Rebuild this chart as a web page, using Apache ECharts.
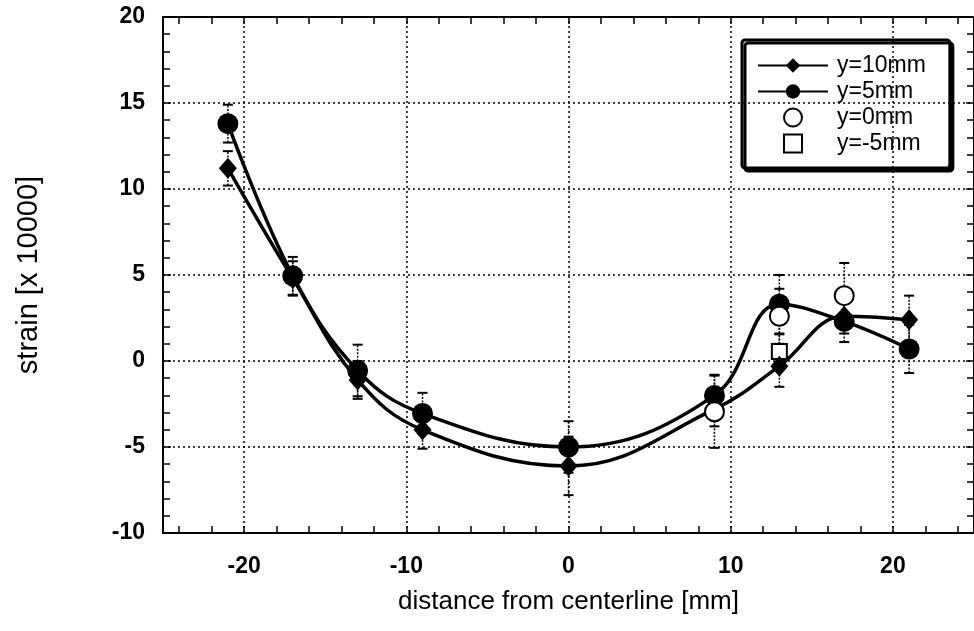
<!DOCTYPE html>
<html>
<head>
<meta charset="utf-8">
<script src="https://cdn.jsdelivr.net/npm/echarts@6/dist/echarts.min.js"></script>
<style>
  html, body { margin: 0; padding: 0; background: #fff; }
  #chart { width: 974px; height: 631px; }
</style>
</head>
<body>
<div id="chart"></div>
<script>
// measurement positions [mm]
const xPos = [-21, -17, -13, -9, 0, 9, 13, 17, 21];
const y10mm = [11.2, 4.8, -1.1, -4.0, -6.1, -2.8, -0.3, 2.6, 2.4];
const y10mmErr = [1.0, 1.0, 1.1, 1.1, 1.7, 1.0, 1.2, 1.0, 1.4];
const y5mm = [13.8, 4.95, -0.55, -3.05, -5.0, -2.0, 3.3, 2.3, 0.7];
const y5mmErr = [1.1, 1.1, 1.5, 1.2, 1.5, 1.2, 1.7, 1.2, 1.4];
const y0mmX = [9, 13, 17];
const y0mm = [-2.95, 2.6, 3.8];
const y0mmErr = [2.1, 1.6, 1.9];
const ym5mmX = [13];
const ym5mm = [0.55];
const ym5mmErr = [1.0];

const xLabels = [-20, -10, 0, 10, 20];
const xMinorTicks = [-24, -22, -20, -18, -16, -14, -12, -10, -8, -6, -4, -2, 0, 2, 4, 6, 8, 10, 12, 14, 16, 18, 20, 22, 24];
const yGrid = [-5, 0, 5, 10, 15];

const pairs = (xs, ys) => xs.map((x, i) => [x, ys[i]]);
const errData = (xs, ys, es) => xs.map((x, i) => [x, ys[i] - es[i], ys[i] + es[i]]);

const chart = echarts.init(document.getElementById('chart'));

const font = 'Liberation Sans, Arial, Helvetica, sans-serif';

const renderErr = (params, api) => {
  const x = api.value(0);
  const lo = api.coord([x, api.value(1)]);
  const hi = api.coord([x, api.value(2)]);
  const w = 5;
  const st = { stroke: '#000', lineWidth: 2 };
  return {
    type: 'group',
    children: [
      { type: 'line', shape: { x1: lo[0], y1: lo[1], x2: hi[0], y2: hi[1] }, style: { stroke: '#000', lineWidth: 1.5, lineDash: [2, 1.5] } },
      { type: 'line', shape: { x1: lo[0] - w, y1: lo[1], x2: lo[0] + w, y2: lo[1] }, style: st },
      { type: 'line', shape: { x1: hi[0] - w, y1: hi[1], x2: hi[0] + w, y2: hi[1] }, style: st }
    ]
  };
};

const errSeries = (data) => ({
  type: 'custom',
  renderItem: renderErr,
  data: data,
  z: 1,
  silent: true,
  clip: false
});

const gridLineStyle = { color: '#000', type: [2, 3], width: 1.5 };

const baseX = {
  type: 'value',
  min: -25,
  max: 25,
  axisLine: { show: true, onZero: false, lineStyle: { color: '#000', width: 2 } },
  axisTick: { show: true, inside: true, length: 7, customValues: xMinorTicks, lineStyle: { color: '#000', width: 1.5 } },
  splitLine: { show: false },
  axisLabel: {
    customValues: xLabels,
    color: '#000',
    fontFamily: font,
    fontWeight: 'bold',
    fontSize: 23,
    margin: 22,
    formatter: (v) => String(v)
  }
};

const baseY = {
  type: 'value',
  min: -10,
  max: 20,
  interval: 5,
  axisLine: { show: true, onZero: false, lineStyle: { color: '#000', width: 2 } },
  axisTick: { show: true, inside: true, length: 8, lineStyle: { color: '#000', width: 1.5 } },
  minorTick: { show: true, splitNumber: 5, length: 7, lineStyle: { color: '#000', width: 1.5 } },
  splitLine: { show: false },
  axisLabel: {
    color: '#000',
    fontFamily: font,
    fontWeight: 'bold',
    fontSize: 23,
    margin: 18
  }
};

chart.setOption({
  backgroundColor: '#fff',
  animation: false,
  grid: { left: 163, top: 17, width: 815, height: 516, containLabel: false },
  xAxis: [
    {
      ...baseX,
      position: 'bottom',
      name: 'distance from centerline [mm]',
      nameLocation: 'middle',
      nameGap: 56,
      nameTextStyle: { color: '#000', fontFamily: font, fontSize: 26 }
    },
    { ...baseX, position: 'top', axisLabel: { show: false } }
  ],
  yAxis: [
    {
      ...baseY,
      position: 'left',
      name: 'strain [x 10000]',
      nameLocation: 'middle',
      nameRotate: 90,
      nameGap: 120,
      nameTextStyle: { color: '#000', fontFamily: font, fontSize: 29 }
    },
    { ...baseY, position: 'right', axisLabel: { show: false } }
  ],
  legend: {
    orient: 'vertical',
    left: 742,
    top: 40,
    padding: [14, 24, 13, 15],
    itemWidth: 70,
    itemHeight: 18,
    itemGap: 3,
    backgroundColor: '#fff',
    borderColor: '#000',
    borderWidth: 3,
    borderRadius: 3,
    shadowColor: '#000',
    shadowBlur: 0,
    shadowOffsetX: 3,
    shadowOffsetY: 3,
    textStyle: { color: '#000', fontFamily: font, fontSize: 23, lineHeight: 20, padding: [0, 0, 0, 4] },
    data: ['y=10mm', 'y=5mm', 'y=0mm', { name: 'y=-5mm', icon: 'path://M0,0H10V10H0Z' }]
  },
  series: [
    {
      // dotted grid lines
      type: 'line',
      data: [],
      z: 0,
      silent: true,
      markLine: {
        silent: true,
        symbol: ['none', 'none'],
        label: { show: false },
        lineStyle: gridLineStyle,
        data: xLabels.map((v) => ({ xAxis: v })).concat(yGrid.map((v) => ({ yAxis: v })))
      }
    },
    errSeries(errData(xPos, y10mm, y10mmErr)),
    errSeries(errData(xPos, y5mm, y5mmErr)),
    errSeries(errData(y0mmX, y0mm, y0mmErr)),
    errSeries(errData(ym5mmX, ym5mm, ym5mmErr)),
    {
      name: 'y=10mm',
      type: 'line',
      smooth: 0.4,
      data: pairs(xPos, y10mm),
      symbol: 'diamond',
      symbolSize: [18, 21],
      lineStyle: { color: '#000', width: 3.5 },
      itemStyle: { color: '#000' },
      z: 3
    },
    {
      name: 'y=5mm',
      type: 'line',
      smooth: 0.4,
      data: pairs(xPos, y5mm),
      symbol: 'circle',
      symbolSize: 21,
      lineStyle: { color: '#000', width: 3.5 },
      itemStyle: { color: '#000' },
      z: 3
    },
    {
      name: 'y=0mm',
      type: 'scatter',
      data: pairs(y0mmX, y0mm),
      symbol: 'circle',
      symbolSize: 19,
      itemStyle: { color: '#fff', borderColor: '#000', borderWidth: 2, opacity: 1 },
      z: 4
    },
    {
      name: 'y=-5mm',
      type: 'scatter',
      data: pairs(ym5mmX, ym5mm),
      symbol: 'path://M0,0H10V10H0Z',
      symbolSize: 15,
      itemStyle: { color: '#fff', borderColor: '#000', borderWidth: 2, opacity: 1 },
      z: 2
    }
  ]
});
</script>
</body>
</html>
